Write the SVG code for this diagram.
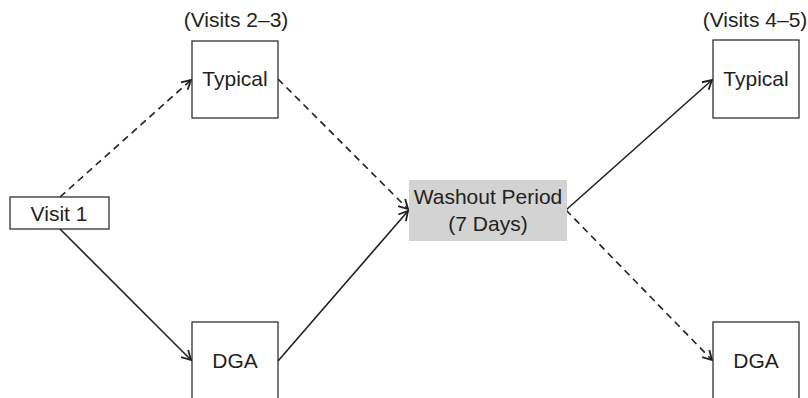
<svg xmlns="http://www.w3.org/2000/svg" width="808" height="398" viewBox="0 0 808 398">
<style>
.box{fill:#fff;stroke:#231f20;stroke-width:1.2}
.gray{fill:#d3d3d3;stroke:none}
.t{font-family:"Liberation Sans",Arial,sans-serif;font-size:21px;fill:#231f20;text-anchor:middle}
.c{fill:none;stroke:#231f20;stroke-width:1.6}
.d{stroke-dasharray:7,5}
</style>
<defs>
<marker id="ah" markerWidth="12" markerHeight="12" refX="10" refY="6" orient="auto" markerUnits="userSpaceOnUse">
<path d="M1,1 L10,6 L1,11" fill="none" stroke="#231f20" stroke-width="1.8"/>
</marker>
</defs>
<rect width="808" height="398" fill="#fff"/>
<text class="t" x="236" y="27">(Visits 2–3)</text>
<text class="t" x="755" y="27">(Visits 4–5)</text>
<g id="connectors">
<line class="c d" x1="60" y1="197" x2="191" y2="80" marker-end="url(#ah)"/>
<line class="c" x1="60" y1="229" x2="191" y2="360" marker-end="url(#ah)"/>
<line class="c d" x1="278" y1="79" x2="408" y2="209" marker-end="url(#ah)"/>
<line class="c" x1="278" y1="361" x2="408" y2="211" marker-end="url(#ah)"/>
<line class="c" x1="566" y1="210" x2="712" y2="80" marker-end="url(#ah)"/>
<line class="c d" x1="566" y1="210" x2="712" y2="360" marker-end="url(#ah)"/>
</g>
<g id="visit1">
<rect class="box" x="10" y="197" width="99" height="32"/>
<text class="t" x="59" y="221">Visit 1</text>
</g>
<g id="typical1">
<rect class="box" x="192" y="41" width="86" height="77"/>
<text class="t" x="235" y="86">Typical</text>
</g>
<g id="dga1">
<rect class="box" x="192" y="322" width="86" height="90"/>
<text class="t" x="235" y="368">DGA</text>
</g>
<g id="washout">
<rect class="gray" x="409" y="180" width="158" height="61"/>
<text class="t" x="488" y="204">Washout Period</text>
<text class="t" x="488" y="231">(7 Days)</text>
</g>
<g id="typical2">
<rect class="box" x="713" y="40" width="86" height="78"/>
<text class="t" x="756" y="86">Typical</text>
</g>
<g id="dga2">
<rect class="box" x="713" y="322" width="86" height="90"/>
<text class="t" x="756" y="368">DGA</text>
</g>
</svg>
